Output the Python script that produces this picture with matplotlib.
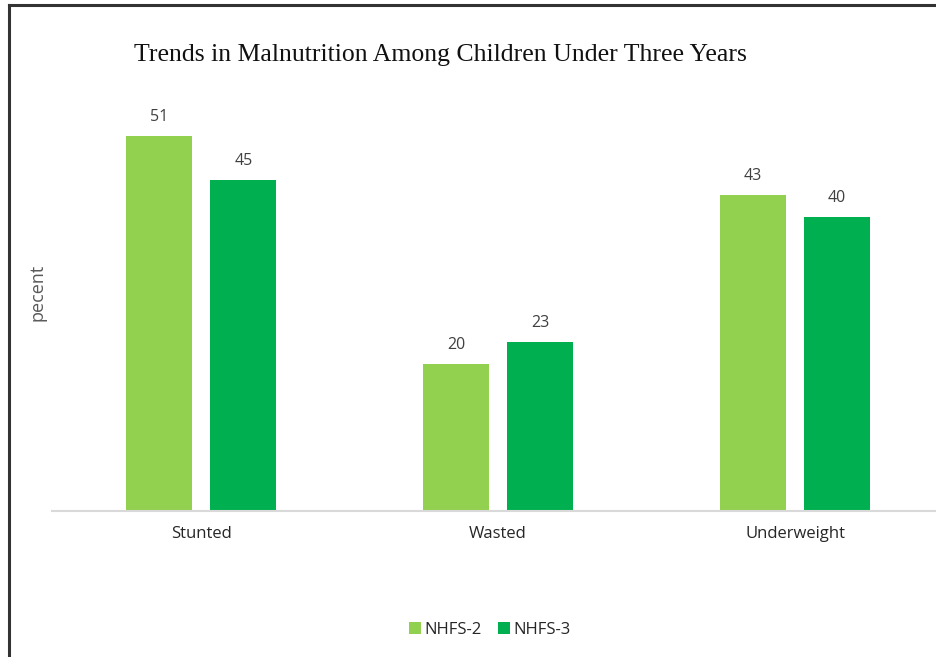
import numpy as np
import matplotlib.pyplot as plt
from matplotlib.lines import Line2D

categories = ['Stunted', 'Wasted', 'Underweight']
nhfs2 = [51, 20, 43]
nhfs3 = [45, 23, 40]
series_names = ['NHFS-2', 'NHFS-3']

W, H = 937, 657
fig = plt.figure(figsize=(W / 100, H / 100), dpi=100)

# axes placed in pixel terms of the reference
ax = fig.add_axes([52 / W, (H - 511) / H, (W - 52) / W, (511 - 90) / H])

x = np.arange(len(categories))
bw = 0.222
off = 0.142
ax.bar(x - off, nhfs2, bw, color='#92D050', label=series_names[0])
ax.bar(x + off, nhfs3, bw, color='#00B050', label=series_names[1])

sans = ['Open Sans', 'DejaVu Sans']
lab_font = dict(family=sans, fontsize=11.5, color='#404040')
for xi, v in zip(x, nhfs2):
    ax.text(xi - off, v + 1.5, str(v), ha='center', va='bottom', **lab_font)
for xi, v in zip(x, nhfs3):
    ax.text(xi + off, v + 1.5, str(v), ha='center', va='bottom', **lab_font)

ax.set_xlim(-0.502, 2.478)
ax.set_ylim(0, 57.3)
ax.set_xticks(x)
ax.set_xticklabels(categories, family=sans, fontsize=12, color='#262626')
ax.tick_params(axis='x', length=0, pad=11)
ax.set_yticks([])
for s in ['top', 'right', 'left']:
    ax.spines[s].set_visible(False)
ax.spines['bottom'].set_color('#d9d9d9')
ax.spines['bottom'].set_linewidth(1.5)

fig.text(38 / W, 1 - 292 / H, 'pecent', rotation=90, ha='center', va='center',
         family=sans, fontsize=13, color='#595959')

fig.text(440 / W, 1 - 55 / H, 'Trends in Malnutrition Among Children Under Three Years',
         ha='center', va='center', family='Liberation Serif', fontsize=18.5, color='#111111')

leg = fig.legend(loc='center', bbox_to_anchor=(490 / W, 1 - 630 / H), ncol=2, frameon=False,
                 handlelength=0.7, handleheight=0.7, handletextpad=0.2, columnspacing=1.0,
                 prop={'family': sans, 'size': 12})
for t in leg.get_texts():
    t.set_color('#262626')

# outer frame (left and top only)
fig.add_artist(Line2D([9 / W, 9 / W], [0, 1 - 5 / H], transform=fig.transFigure,
                      color='#333333', lw=2.2))
fig.add_artist(Line2D([9 / W, 1], [1 - 5 / H, 1 - 5 / H], transform=fig.transFigure,
                      color='#333333', lw=2.2))

fig.savefig('out.png', dpi=100)
